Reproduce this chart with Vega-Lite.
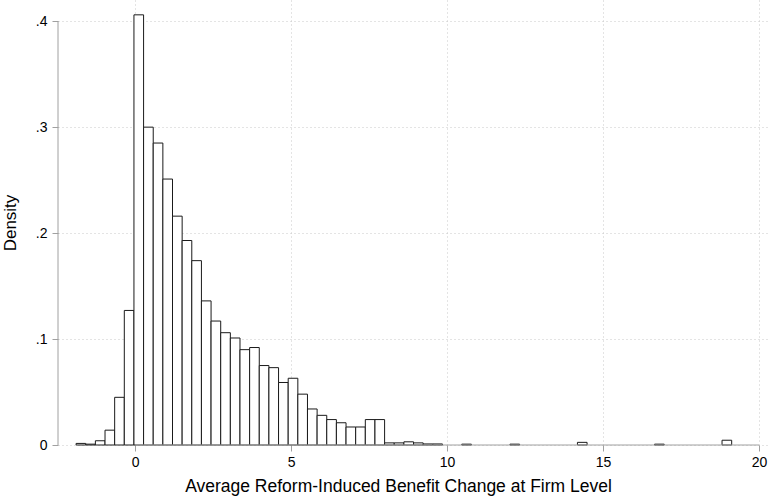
{
  "$schema": "https://vega.github.io/schema/vega-lite/v6.json",
  "width": 712,
  "height": 445,
  "autosize": "none",
  "padding": {"left": 58, "top": 0, "right": 5, "bottom": 55},
  "background": "white",
  "config": {"view": {"stroke": null}, "font": "Liberation Sans"},
  "data": {"values": [
    {"bin_start": -1.890, "bin_end": -1.581, "density": 0.0015},
    {"bin_start": -1.581, "bin_end": -1.272, "density": 0.0008},
    {"bin_start": -1.272, "bin_end": -0.963, "density": 0.004},
    {"bin_start": -0.963, "bin_end": -0.654, "density": 0.014},
    {"bin_start": -0.654, "bin_end": -0.345, "density": 0.045},
    {"bin_start": -0.345, "bin_end": -0.036, "density": 0.127},
    {"bin_start": -0.036, "bin_end": 0.273, "density": 0.406},
    {"bin_start": 0.273, "bin_end": 0.582, "density": 0.300},
    {"bin_start": 0.582, "bin_end": 0.891, "density": 0.285},
    {"bin_start": 0.891, "bin_end": 1.200, "density": 0.251},
    {"bin_start": 1.200, "bin_end": 1.509, "density": 0.216},
    {"bin_start": 1.509, "bin_end": 1.818, "density": 0.193},
    {"bin_start": 1.818, "bin_end": 2.127, "density": 0.174},
    {"bin_start": 2.127, "bin_end": 2.436, "density": 0.136},
    {"bin_start": 2.436, "bin_end": 2.745, "density": 0.117},
    {"bin_start": 2.745, "bin_end": 3.054, "density": 0.106},
    {"bin_start": 3.054, "bin_end": 3.363, "density": 0.101},
    {"bin_start": 3.363, "bin_end": 3.672, "density": 0.090},
    {"bin_start": 3.672, "bin_end": 3.981, "density": 0.092},
    {"bin_start": 3.981, "bin_end": 4.290, "density": 0.075},
    {"bin_start": 4.290, "bin_end": 4.599, "density": 0.073},
    {"bin_start": 4.599, "bin_end": 4.908, "density": 0.059},
    {"bin_start": 4.908, "bin_end": 5.217, "density": 0.063},
    {"bin_start": 5.217, "bin_end": 5.526, "density": 0.048},
    {"bin_start": 5.526, "bin_end": 5.835, "density": 0.034},
    {"bin_start": 5.835, "bin_end": 6.144, "density": 0.028},
    {"bin_start": 6.144, "bin_end": 6.453, "density": 0.024},
    {"bin_start": 6.453, "bin_end": 6.762, "density": 0.021},
    {"bin_start": 6.762, "bin_end": 7.071, "density": 0.017},
    {"bin_start": 7.071, "bin_end": 7.380, "density": 0.017},
    {"bin_start": 7.380, "bin_end": 7.689, "density": 0.024},
    {"bin_start": 7.689, "bin_end": 7.998, "density": 0.024},
    {"bin_start": 7.998, "bin_end": 8.307, "density": 0.002},
    {"bin_start": 8.307, "bin_end": 8.616, "density": 0.002},
    {"bin_start": 8.616, "bin_end": 8.925, "density": 0.003},
    {"bin_start": 8.925, "bin_end": 9.234, "density": 0.002},
    {"bin_start": 9.234, "bin_end": 9.543, "density": 0.001},
    {"bin_start": 9.543, "bin_end": 9.852, "density": 0.001},
    {"bin_start": 10.470, "bin_end": 10.779, "density": 0.0008},
    {"bin_start": 12.015, "bin_end": 12.324, "density": 0.0008},
    {"bin_start": 14.178, "bin_end": 14.487, "density": 0.0025},
    {"bin_start": 16.650, "bin_end": 16.959, "density": 0.0008},
    {"bin_start": 18.813, "bin_end": 19.122, "density": 0.0045}
  ]},
  "layer": [
    {
      "mark": {"type": "bar", "fill": "white", "stroke": "#1a1a1a", "strokeWidth": 1},
      "encoding": {
        "x": {
          "field": "bin_start", "type": "quantitative",
          "scale": {"domain": [-2.47, 20.35], "nice": false, "zero": false},
          "axis": {
            "title": "Average Reform-Induced Benefit Change at Firm Level",
            "values": [0, 5, 10, 15, 20],
            "domain": false,
            "grid": true, "gridDash": [1, 3], "gridColor": "#c8c8c8", "gridWidth": 1,
            "tickColor": "#a0a0a0", "tickSize": 6,
            "labelFontSize": 14, "labelColor": "#000", "labelPadding": 4,
            "titleFontSize": 17.5, "titleFontWeight": "normal", "titleColor": "#000", "titlePadding": 8,
            "titleX": 340
          }
        },
        "x2": {"field": "bin_end"},
        "y": {
          "field": "density", "type": "quantitative",
          "scale": {"domain": [0, 0.42], "nice": false, "zero": true},
          "axis": {
            "title": "Density",
            "values": [0, 0.1, 0.2, 0.3, 0.4],
            "labelExpr": "datum.value == 0 ? '0' : replace(format(datum.value, '.1f'), '0.', '.')",
            "domain": false,
            "grid": true, "gridDash": [1, 3], "gridColor": "#c8c8c8", "gridWidth": 1,
            "tickColor": "#a0a0a0", "tickSize": 6,
            "labelFontSize": 14, "labelColor": "#000", "labelPadding": 5,
            "titleFontSize": 17, "titleFontWeight": "normal", "titleColor": "#000", "titlePadding": 16
          }
        },
        "y2": {"datum": 0}
      }
    },
    {
      "data": {"values": [{}]},
      "mark": {"type": "rule", "color": "#a0a0a0", "strokeWidth": 1},
      "encoding": {
        "x": {"datum": -2.47, "type": "quantitative"},
        "y": {"datum": 0, "type": "quantitative"},
        "y2": {"datum": 0.4}
      }
    },
    {
      "data": {"values": [{}]},
      "mark": {"type": "rule", "color": "#a0a0a0", "strokeWidth": 1},
      "encoding": {
        "x": {"datum": 0, "type": "quantitative"},
        "x2": {"datum": 20},
        "y": {"datum": 0, "type": "quantitative"}
      }
    }
  ]
}
